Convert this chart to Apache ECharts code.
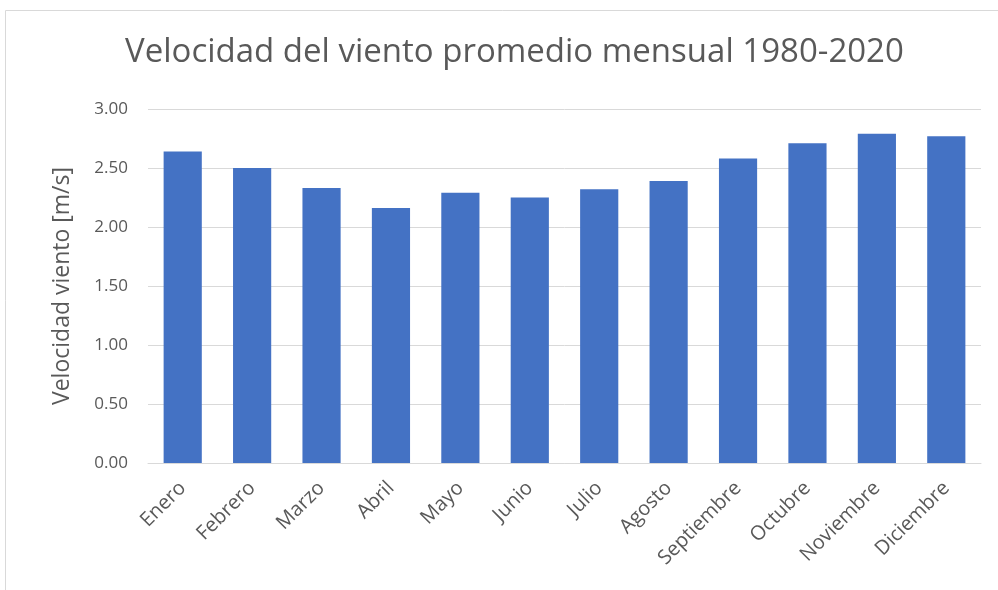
<!DOCTYPE html>
<html>
<head>
<meta charset="utf-8">
<script src="https://cdn.jsdelivr.net/npm/echarts@6/dist/echarts.min.js"></script>
<style>
  html, body { margin: 0; padding: 0; background: #fff; }
  #chart { width: 998px; height: 590px; }
</style>
</head>
<body>
<div id="chart"></div>
<script>
// data
const months = ['Enero', 'Febrero', 'Marzo', 'Abril', 'Mayo', 'Junio', 'Julio',
  'Agosto', 'Septiembre', 'Octubre', 'Noviembre', 'Diciembre']
const windSpeed = [2.64, 2.50, 2.33, 2.16, 2.29, 2.25, 2.32, 2.39, 2.58, 2.71, 2.79, 2.77]
const yTicks = { min: 0, max: 3, interval: 0.5 }

const font = '"Open Sans", "Liberation Sans", sans-serif'
const textGrey = '#595959'

let chart = echarts.init(document.getElementById('chart'))
chart.setOption({
  animation: false,
  textStyle: { fontFamily: font },
  title: {
    text: 'Velocidad del viento promedio mensual 1980-2020',
    left: 120,
    top: 31,
    textStyle: { fontSize: 33, fontWeight: 'normal', color: textGrey, fontFamily: font }
  },
  graphic: [{
    type: 'rect',
    shape: { x: 5.5, y: 10.5, width: 1000, height: 600 },
    style: { fill: 'none', stroke: '#d9d9d9', lineWidth: 1 },
    silent: true
  }],
  grid: {
    left: 148,
    right: 17,
    top: 109,
    bottom: 127
  },
  xAxis: {
    type: 'category',
    data: months,
    axisTick: { show: false },
    axisLine: { lineStyle: { color: '#d9d9d9', width: 1 } },
    axisLabel: {
      rotate: 45,
      interval: 0,
      margin: 22,
      color: textGrey,
      fontSize: 20,
      fontFamily: font
    }
  },
  yAxis: {
    type: 'value',
    min: yTicks.min,
    max: yTicks.max,
    interval: yTicks.interval,
    name: 'Velocidad viento [m/s]',
    nameLocation: 'middle',
    nameGap: 74,
    nameTextStyle: { fontSize: 23, color: textGrey, fontFamily: font },
    axisLine: { show: false },
    axisTick: { show: false },
    axisLabel: {
      color: textGrey,
      fontSize: 17,
      margin: 20,
      fontFamily: font,
      formatter: v => v.toFixed(2)
    },
    splitLine: { lineStyle: { color: '#d9d9d9', width: 1 } }
  },
  series: [{
    type: 'bar',
    data: windSpeed,
    barWidth: '55%',
    itemStyle: { color: '#4472c4' }
  }]
})
</script>
</body>
</html>
